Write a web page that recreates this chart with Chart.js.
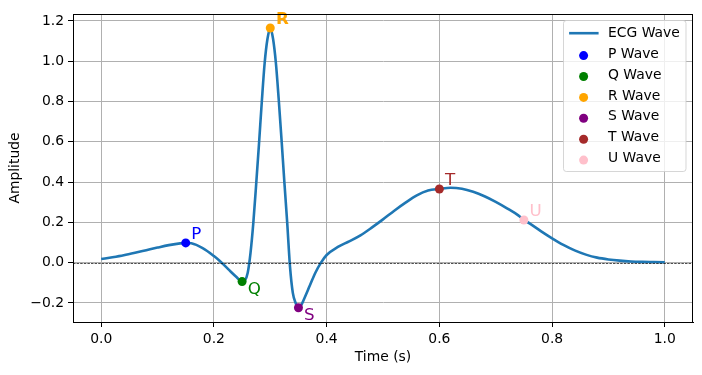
<!DOCTYPE html>
<html>
<head>
<meta charset="utf-8">
<script src="https://cdn.jsdelivr.net/npm/chart.js@4.4.1/dist/chart.umd.min.js"></script>
<style>
  html, body { margin: 0; padding: 0; background: #fff; }
</style>
</head>
<body>
<canvas id="ecgChart" width="702" height="375"></canvas>
<script>
// curve samples
const timeValues = [
  0.00, 0.02, 0.04, 0.06, 0.08, 0.10, 0.12, 0.14, 0.15, 0.16, 0.18, 0.20, 0.21, 0.22, 0.23, 0.24, 0.25,
  0.255, 0.26, 0.265, 0.27, 0.275, 0.28, 0.285, 0.29, 0.295, 0.30, 0.305, 0.31, 0.315, 0.32, 0.325,
  0.33, 0.335, 0.34, 0.345, 0.35, 0.355, 0.36, 0.37, 0.38, 0.39, 0.40, 0.42, 0.44, 0.46, 0.48, 0.50,
  0.52, 0.54, 0.56, 0.58, 0.60, 0.62, 0.64, 0.66, 0.68, 0.70, 0.72, 0.74, 0.75, 0.76, 0.78, 0.80,
  0.82, 0.84, 0.86, 0.88, 0.90, 0.92, 0.94, 0.96, 0.98, 1.00
];
const ecgValues = [
  0.018, 0.027, 0.037, 0.049, 0.062, 0.075, 0.087, 0.096, 0.098, 0.096, 0.072, 0.033, 0.010, -0.017, -0.045, -0.071, -0.094,
  -0.088, -0.050, 0.050, 0.200, 0.390, 0.590, 0.800, 0.990, 1.110, 1.165, 1.110, 0.990, 0.810, 0.610, 0.400,
  0.200, -0.020, -0.150, -0.200, -0.224, -0.210, -0.180, -0.115, -0.050, 0.000, 0.038, 0.078, 0.106, 0.136, 0.174, 0.215,
  0.258, 0.298, 0.334, 0.358, 0.366, 0.372, 0.367, 0.352, 0.330, 0.302, 0.270, 0.235, 0.212, 0.195, 0.157, 0.121,
  0.088, 0.061, 0.040, 0.025, 0.016, 0.010, 0.006, 0.004, 0.003, 0.002
];

// marked waves
const waveNames = ['P', 'Q', 'R', 'S', 'T', 'U'];
const waveTimes = [0.15, 0.25, 0.30, 0.35, 0.60, 0.75];
const waveValues = [0.098, -0.094, 1.165, -0.224, 0.366, 0.212];

const xTicks = [0.0, 0.2, 0.4, 0.6, 0.8, 1.0];
const yTicks = [-0.2, 0.0, 0.2, 0.4, 0.6, 0.8, 1.0, 1.2];

const waveColors = ['blue', 'green', 'orange', 'purple', 'brown', 'pink'];
const lineColor = '#1f77b4';
const FONT = '"DejaVu Sans", sans-serif';
const FS = 13.9; // 10pt

Chart.defaults.font.family = FONT;
Chart.defaults.font.size = FS;
Chart.defaults.color = '#000';

function fmtTick(v) {
  const s = Math.abs(v).toFixed(1);
  return v < -1e-9 ? '\u2212' + s : s;
}

const decorations = {
  id: 'decorations',
  afterDatasetsDraw(chart) {
    const {ctx, chartArea: a, scales: {x, y}} = chart;
    ctx.save();
    // dashed zero line
    const y0 = Math.round(y.getPixelForValue(0)) + 0.5;
    ctx.strokeStyle = '#000';
    ctx.lineWidth = 0.7;
    ctx.setLineDash([2.5, 1.1]);
    ctx.beginPath();
    ctx.moveTo(a.left, y0);
    ctx.lineTo(a.right, y0);
    ctx.stroke();
    ctx.setLineDash([]);

    // wave letters next to each marker
    waveNames.forEach((name, i) => {
      const px = x.getPixelForValue(waveTimes[i] + 0.01);
      const py = y.getPixelForValue(waveValues[i]);
      const below = name === 'Q' || name === 'S';
      ctx.font = (name === 'R' ? 'bold ' : '') + '16.7px ' + FONT;
      ctx.fillStyle = waveColors[i];
      ctx.textBaseline = 'alphabetic';
      ctx.textAlign = 'left';
      ctx.fillText(name, px, below ? py + 12.6 : py - 4);
    });
    ctx.restore();
  },
  afterDraw(chart) {
    const {ctx, chartArea: a} = chart;
    ctx.save();
    // frame on all four sides
    ctx.strokeStyle = '#000';
    ctx.lineWidth = 1;
    ctx.strokeRect(Math.round(a.left) + 0.5, Math.round(a.top) + 0.5,
                   Math.round(a.right - a.left) - 1, Math.round(a.bottom - a.top));

    // legend box, upper right
    const w = 122.5, h = 151;
    const right = a.right - 7, top = a.top + 6.5;
    const left = right - w;
    ctx.beginPath();
    ctx.roundRect(left, top, w, h, 2.8);
    ctx.fillStyle = 'rgba(255,255,255,0.8)';
    ctx.fill();
    ctx.strokeStyle = 'rgba(204,204,204,0.8)';
    ctx.stroke();

    const rowH = 20.9;
    const firstY = top + 12.7;
    const handleX = left + 5.6;
    const textX = left + 44.5;
    ctx.font = FS + 'px ' + FONT;
    ctx.textBaseline = 'middle';
    ctx.textAlign = 'left';

    // line entry
    ctx.strokeStyle = lineColor;
    ctx.lineWidth = 2.6;
    ctx.beginPath();
    ctx.moveTo(handleX, firstY);
    ctx.lineTo(handleX + 29.5, firstY);
    ctx.stroke();
    ctx.fillStyle = '#000';
    ctx.fillText('ECG Wave', textX, firstY);

    waveNames.forEach((name, i) => {
      const yc = firstY + (i + 1) * rowH;
      ctx.fillStyle = waveColors[i];
      ctx.beginPath();
      ctx.arc(handleX + 14.5, yc + 1.5, 4.5, 0, Math.PI * 2);
      ctx.fill();
      ctx.fillStyle = '#000';
      ctx.fillText(name + ' Wave', textX, yc);
    });
    ctx.restore();
  }
};

const datasets = waveNames.map((name, i) => ({
  label: name + ' Wave',
  data: [{x: waveTimes[i], y: waveValues[i]}],
  backgroundColor: waveColors[i],
  borderWidth: 0,
  pointRadius: 4.5,
  pointHoverRadius: 4.5,
  order: 1
}));

datasets.push({
  label: 'ECG Wave',
  data: timeValues.map((t, i) => ({x: t, y: ecgValues[i]})),
  showLine: true,
  borderColor: lineColor,
  borderWidth: 2.6,
  pointRadius: 0,
  cubicInterpolationMode: 'monotone',
  fill: false,
  order: 5
});

new Chart(document.getElementById('ecgChart').getContext('2d'), {
  type: 'scatter',
  data: { datasets: datasets },
  plugins: [decorations],
  options: {
    responsive: false,
    animation: false,
    devicePixelRatio: 1,
    layout: { padding: { top: 14, right: 9, left: 0, bottom: 0 } },
    plugins: {
      legend: { display: false },
      tooltip: { enabled: false }
    },
    scales: {
      x: {
        type: 'linear',
        min: -0.05,
        max: 1.05,
        afterBuildTicks: (s) => { s.ticks = xTicks.map(v => ({value: v})); },
        afterFit: (s) => { s.height = 53; },
        ticks: { callback: fmtTick, padding: 4, maxRotation: 0, autoSkip: false, font: { size: FS } },
        grid: { color: '#b0b0b0', lineWidth: 1, tickColor: '#000', tickLength: 5 },
        border: { display: true, color: '#000', width: 1 },
        title: { display: true, text: 'Time (s)', font: { size: FS }, padding: { top: 0, bottom: 9.5 } }
      },
      y: {
        type: 'linear',
        min: -0.2945,
        max: 1.2345,
        afterBuildTicks: (s) => { s.ticks = yTicks.map(v => ({value: v})); },
        afterFit: (s) => { s.width = 73; },
        ticks: { callback: fmtTick, padding: 4, autoSkip: false, font: { size: FS } },
        grid: { color: '#b0b0b0', lineWidth: 1, tickColor: '#000', tickLength: 5 },
        border: { display: true, color: '#000', width: 1 },
        title: { display: true, text: 'Amplitude', font: { size: FS }, padding: { top: 7.5, bottom: 0 } }
      }
    }
  }
});
</script>
</body>
</html>
